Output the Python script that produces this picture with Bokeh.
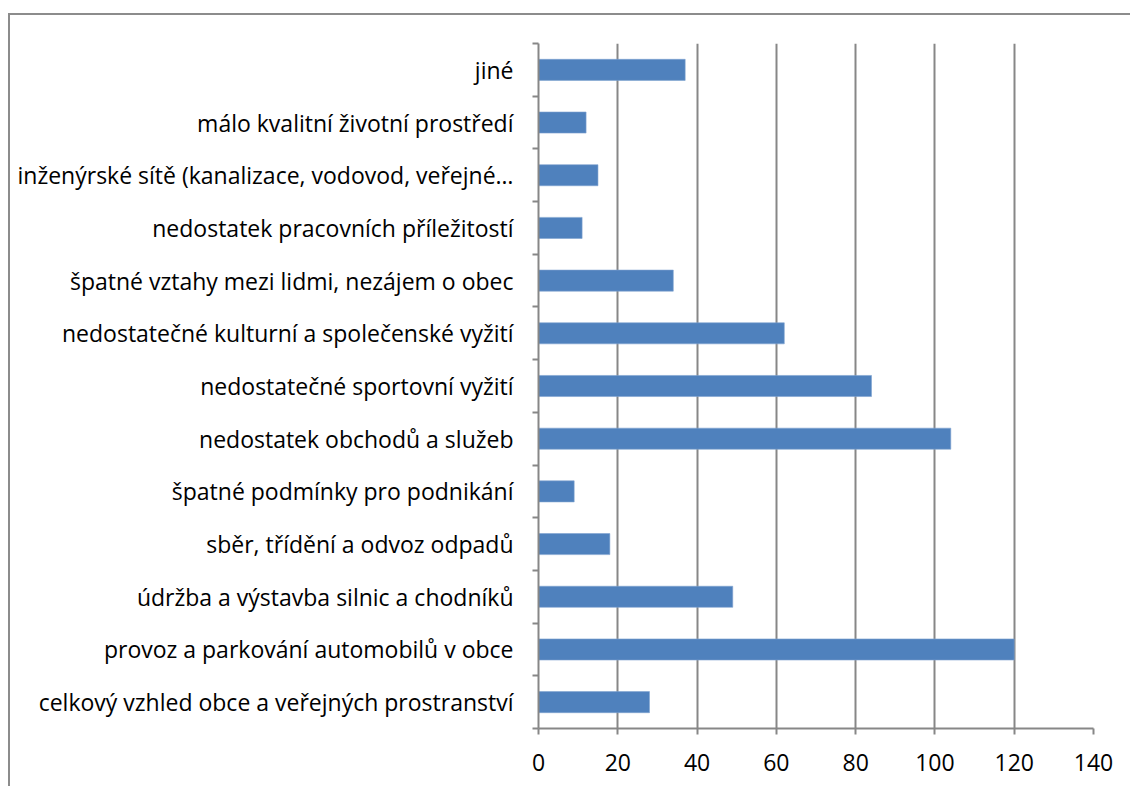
from bokeh.plotting import figure
from bokeh.models import FixedTicker
from bokeh.embed import file_html
from bokeh.resources import INLINE

categories = [
    "celkový vzhled obce a veřejných prostranství",
    "provoz a parkování automobilů v obce",
    "údržba a výstavba silnic a chodníků",
    "sběr, třídění a odvoz odpadů",
    "špatné podmínky pro podnikání",
    "nedostatek obchodů a služeb",
    "nedostatečné sportovní vyžití",
    "nedostatečné kulturní a společenské vyžití",
    "špatné vztahy mezi lidmi, nezájem o obec",
    "nedostatek pracovních příležitostí",
    "inženýrské sítě (kanalizace, vodovod, veřejné…",
    "málo kvalitní životní prostředí",
    "jiné",
]
values = [28, 120, 49, 18, 9, 104, 84, 62, 34, 11, 15, 12, 37]
x_ticks = [0, 20, 40, 60, 80, 100, 120, 140]

positions = [i + 1 for i in range(len(categories))]
boundaries = [i + 0.5 for i in range(len(categories) + 1)]

FONT = "Open Sans"
GRAY = "#878787"

p = figure(width=1122, height=773, output_backend="svg", toolbar_location=None,
           x_range=(0, 140), y_range=(0.5, len(categories) + 0.5),
           x_axis_location="below", y_axis_location="left")
p.margin = (13, 0, 0, 8)
p.styles = {"border-left": "2px solid #8c8c8c", "border-top": "2px solid #8c8c8c"}
p.min_border_left = 528
p.min_border_right = 39
p.min_border_top = 28
p.min_border_bottom = 60
p.outline_line_color = None
p.background_fill_color = "white"
p.border_fill_color = "white"

p.hbar(y=positions, right=values, left=0, height=0.4,
       fill_color="#4f81bd", line_color="#7fa3d0", line_width=0.6)

# x axis
xa = p.xaxis[0]
xa.ticker = FixedTicker(ticks=x_ticks)
xa.axis_line_color = GRAY
xa.axis_line_width = 2
xa.major_tick_line_color = GRAY
xa.major_tick_line_width = 2
xa.major_tick_out = 6
xa.major_tick_in = 0
xa.minor_tick_line_color = None
xa.major_label_text_font = FONT
xa.major_label_text_font_size = "23px"
xa.major_label_text_color = "black"
xa.major_label_standoff = 19

# y axis
ya = p.yaxis[0]
ya.ticker = FixedTicker(ticks=positions, minor_ticks=boundaries)
ya.major_label_overrides = {pos: cat for pos, cat in zip(positions, categories)}
ya.axis_line_color = GRAY
ya.axis_line_width = 2
ya.major_tick_line_color = None
ya.major_tick_out = 0
ya.major_tick_in = 0
ya.minor_tick_line_color = GRAY
ya.minor_tick_line_width = 2
ya.minor_tick_out = 6
ya.minor_tick_in = 0
ya.major_label_text_font = FONT
ya.major_label_text_font_size = "23px"
ya.major_label_text_color = "black"
ya.major_label_standoff = 19

p.xgrid.ticker = FixedTicker(ticks=x_ticks)
p.xgrid.grid_line_color = GRAY
p.xgrid.grid_line_width = 2
p.ygrid.grid_line_color = None

open("out.html", "w").write(file_html(p, INLINE))
